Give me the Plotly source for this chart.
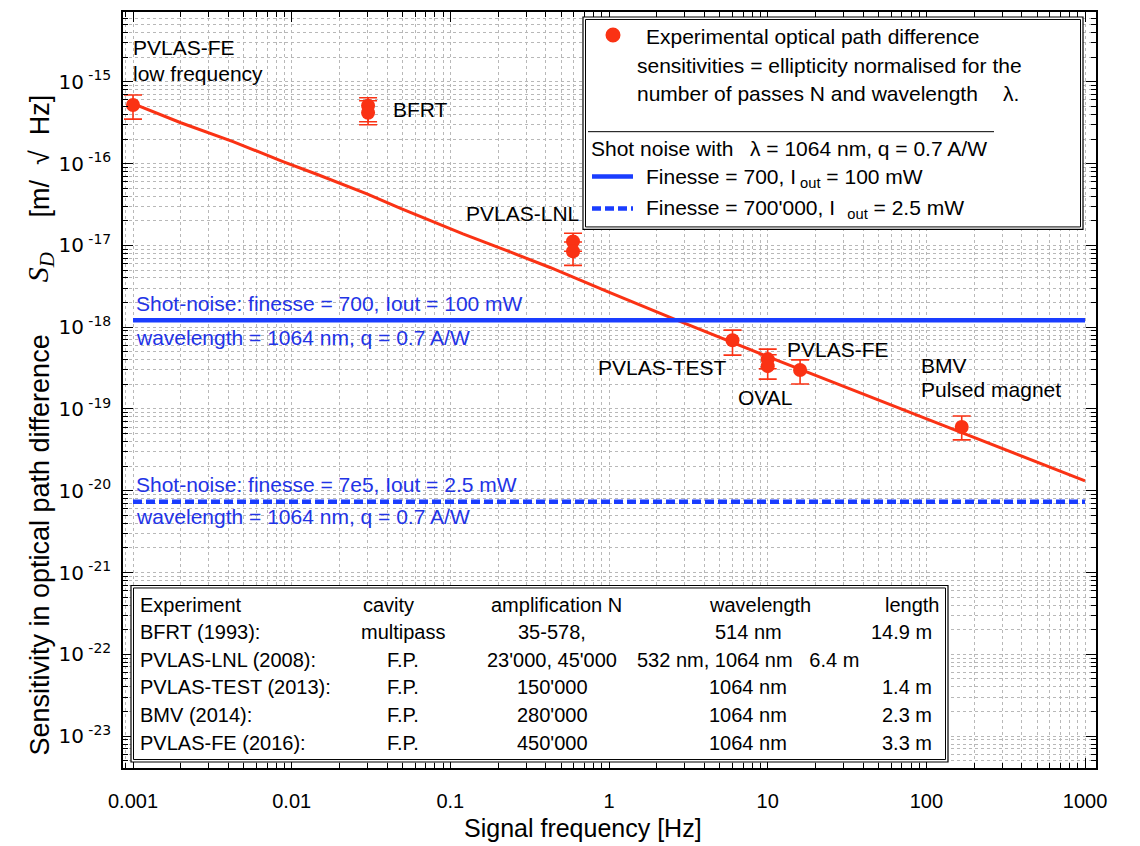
import plotly.graph_objects as go

# ---------------- data ----------------
curve_f = [0.001, 0.002, 0.00427, 0.00881, 0.0144, 0.0298, 0.0481, 0.12, 0.238, 0.425, 0.97, 2.49, 10, 40, 167, 1000]
curve_s = [5.40e-16, 3.16e-16, 1.86e-16, 1.06e-16, 7.41e-17, 4.27e-17, 2.85e-17, 1.38e-17, 8.32e-18,
           5.37e-18, 2.75e-18, 1.29e-18, 4.37e-19, 1.51e-19, 5.13e-20, 1.32e-20]

# experimental points (some experiments have two points)
pts_f = [0.001, 0.0303, 0.0303, 0.593, 0.593, 6.0, 10.0, 10.0, 16.0, 167.0]
pts_s = [5.2e-16, 5.1e-16, 4.19e-16, 1.12e-17, 8.45e-18, 6.93e-19, 4.07e-19, 3.34e-19, 2.99e-19, 6.03e-20]
pts_hi = [6.89e-16, 6.38e-16, 5.86e-16, 1.41e-17, 1.10e-17, 9.2e-19, 5.4e-19, 4.6e-19, 3.98e-19, 8.2e-20]
pts_lo = [3.5e-16, 3.25e-16, 2.99e-16, 8.5e-18, 5.7e-18, 4.56e-19, 3.1e-19, 2.32e-19, 2.02e-19, 4.19e-20]

shot_f = [0.001, 1000]
shot_700 = [1.22e-18, 1.22e-18]
shot_7e5 = [7.35e-21, 7.35e-21]

x_tickvals = [0.001, 0.01, 0.1, 1, 10, 100, 1000]
x_ticktext = ["0.001", "0.01", "0.1", "1", "10", "100", "1000"]
y_exps = [-15, -16, -17, -18, -19, -20, -21, -22, -23]

table_header = ["Experiment", "cavity", "amplification N", "wavelength", "length"]
table_rows = [
    ["BFRT (1993):", "multipass", "35-578,", "514 nm", "14.9 m"],
    ["PVLAS-LNL (2008):", "F.P.", "23'000, 45'000", "532 nm, 1064 nm   6.4 m", ""],
    ["PVLAS-TEST (2013):", "F.P.", "150'000", "1064 nm", "1.4 m"],
    ["BMV (2014):", "F.P.", "280'000", "1064 nm", "2.3 m"],
    ["PVLAS-FE (2016):", "F.P.", "450'000", "1064 nm", "3.3 m"],
]

# ---------------- styling ----------------
RED = "#fa3214"
BLUE = "#1a3dff"
BLUE_TXT = "#2233e6"
FONT = "Liberation Sans, Arial, sans-serif"
GRID = "#b8b8b8"

# the page body has an 8px margin; figure is sized/offset so page pixels match
OFF = 8
W, H = 1140 - OFF, 846 - OFF
L, R, T, B = 123, 1096, 10, 768   # plot-area edges in page pixels


def px(x):
    return (x - L) / (R - L)


def py(y):
    return (B - y) / (B - T)


fig = go.Figure()

fig.add_trace(go.Scatter(x=curve_f, y=curve_s, mode="lines",
                         line=dict(color=RED, width=3), showlegend=False))
fig.add_trace(go.Scatter(x=shot_f, y=shot_700, mode="lines",
                         line=dict(color=BLUE, width=4.5), showlegend=False))
fig.add_trace(go.Scatter(x=shot_f, y=shot_7e5, mode="lines",
                         line=dict(color=BLUE, width=4.5, dash="9px,4px"), showlegend=False))
fig.add_trace(go.Scatter(
    x=pts_f, y=pts_s, mode="markers",
    marker=dict(color=RED, size=14),
    error_y=dict(type="data", symmetric=False,
                 array=[h - s for h, s in zip(pts_hi, pts_s)],
                 arrayminus=[s - l for s, l in zip(pts_s, pts_lo)],
                 color=RED, thickness=1.6, width=9),
    showlegend=False))

ann = []


def text(x, y, s, size=21, color="black", xanchor="left", family=FONT, angle=0):
    ann.append(dict(x=px(x), y=py(y), xref="paper", yref="paper", text=s, showarrow=False,
                    xanchor=xanchor, yanchor="middle", textangle=angle,
                    font=dict(size=size, color=color, family=family)))


# experiment labels
text(131, 46, "PVLAS-FE")
text(131, 72, "low frequency")
text(391, 108, "BFRT")
text(464, 212, "PVLAS-LNL")
text(596, 366, "PVLAS-TEST")
text(736, 397, "OVAL")
text(785, 348, "PVLAS-FE")
text(919, 364, "BMV")
text(919, 388, "Pulsed magnet")

# shot-noise labels
text(134, 302, "Shot-noise: finesse = 700, Iout = 100 mW", color=BLUE_TXT)
text(134, 336, "wavelength = 1064 nm, q = 0.7 A/W", color=BLUE_TXT)
text(134, 484, "Shot-noise: finesse = 7e5, Iout = 2.5 mW", color=BLUE_TXT)
text(134, 516, "wavelength = 1064 nm, q = 0.7 A/W", color=BLUE_TXT)

# legend box text
text(644, 35, "Experimental optical path difference")
text(635, 64, "sensitivities = ellipticity normalised for the")
text(635, 92, "number of passes N and wavelength")
text(1001, 92, "λ.")
text(589, 147, "Shot noise with")
text(748, 147, "λ = 1064 nm, q = 0.7 A/W")
text(644, 176, "Finesse = 700, I<sub> out</sub> = 100 mW")
text(644, 208, "Finesse = 700'000, I<sub>   out</sub> = 2.5 mW")

# table text
row_y = [632, 660, 687, 715, 743]
hdr_pos = [(138, "left"), (388, "center"), (556, "center"), (760, "center"), (942, "right")]
row_pos = [(138, "left"), (403, "center"), (552, "center"), (748, "center"), (934, "right")]
for (x, a), s in zip(hdr_pos, table_header):
    text(x, 605, s, size=20, xanchor=a)
for yy, row in zip(row_y, table_rows):
    for (x, a), s in zip(row_pos, row):
        if s:
            text(x, yy, s, size=20, xanchor=a)

# axis titles
text(583, 828, "Signal frequency [Hz]", size=25, xanchor="center")
text(40, 545, "Sensitivity in optical path difference", size=27, xanchor="center", angle=-90)
text(40, 155, "[m/  √  Hz]", size=27, xanchor="center", angle=-90)
text(40, 266, "<i>S<sub>D</sub></i>", size=30, xanchor="center", angle=-90,
     family="Liberation Serif, Times New Roman, serif")

shapes = []


def rect(x0, y0, x1, y1, width=1.2, fill=None):
    shapes.append(dict(type="rect", xref="paper", yref="paper", x0=px(x0), y0=py(y1), x1=px(x1), y1=py(y0),
                       line=dict(color="black", width=width), fillcolor=fill or "rgba(0,0,0,0)",
                       layer="above"))


# legend box (double border)
rect(583, 15, 1083, 228, width=1.2, fill="white")
rect(585.5, 17.5, 1080.5, 225.5, width=1.0)
shapes.append(dict(type="line", xref="paper", yref="paper", x0=px(588), x1=px(994), y0=py(130), y1=py(130),
                   line=dict(color="black", width=1), layer="above"))
shapes.append(dict(type="circle", xref="paper", yref="paper", x0=px(605.5), x1=px(620.5), y0=py(40.5), y1=py(25.5),
                   line=dict(color=RED, width=0), fillcolor=RED, layer="above"))
shapes.append(dict(type="line", xref="paper", yref="paper", x0=px(592), x1=px(633), y0=py(175), y1=py(175),
                   line=dict(color=BLUE, width=4.5), layer="above"))
shapes.append(dict(type="line", xref="paper", yref="paper", x0=px(592), x1=px(633), y0=py(207), y1=py(207),
                   line=dict(color=BLUE, width=4.5, dash="9px,4px"), layer="above"))

# table box (double border)
rect(131, 585, 948, 762, width=1.2, fill="white")
rect(133.5, 587.5, 945.5, 759.5, width=1.0)

axis_common = dict(
    type="log", showline=True, linecolor="black", linewidth=1.5, mirror="allticks",
    ticks="inside", ticklen=10, tickwidth=1.2, tickcolor="black",
    showgrid=True, gridcolor=GRID, griddash="3px,3px", gridwidth=1,
    zeroline=False,
)

fig.update_layout(
    width=W, height=H,
    margin=dict(l=L - OFF, r=W - (R - OFF), t=T - OFF, b=H - (B - OFF)),
    paper_bgcolor="white", plot_bgcolor="white",
    xaxis=dict(range=[-3.063, 3.069], tickmode="array", tickvals=x_tickvals, ticktext=x_ticktext,
               ticklabelstandoff=14, tickfont=dict(family=FONT, size=20, color="black"),
               minor=dict(ticks="inside", ticklen=5, tickwidth=1, tickcolor="black", dtick="D1",
                          showgrid=True, gridcolor=GRID, griddash="3px,3px", gridwidth=1),
               **axis_common),
    yaxis=dict(range=[-23.39, -14.146], tickmode="array",
               tickvals=[10.0 ** e for e in y_exps],
               ticktext=["10<sup> %d</sup>" % e for e in y_exps],
               ticklabelstandoff=6, tickfont=dict(family="DejaVu Sans, Verdana, sans-serif", size=20, color="black"),
               minor=dict(ticks="inside", ticklen=5, tickwidth=1, tickcolor="black", dtick="D1",
                          showgrid=True, gridcolor=GRID, griddash="3px,3px", gridwidth=1),
               **axis_common),
    annotations=ann,
    shapes=shapes,
)

fig.write_html("out.html")
